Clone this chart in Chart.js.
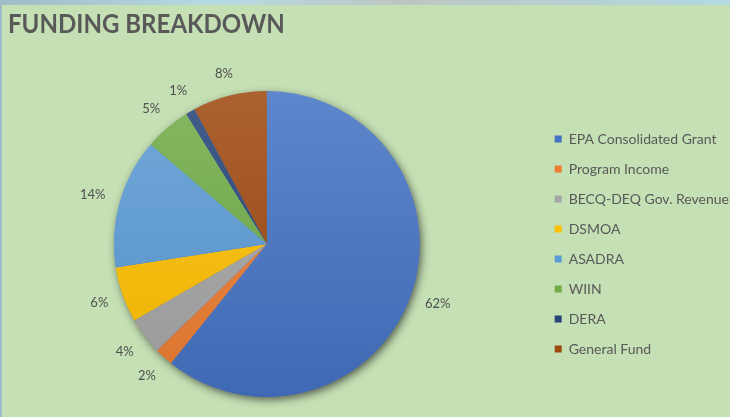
<!DOCTYPE html>
<html>
<head>
<meta charset="utf-8">
<script src="https://cdn.jsdelivr.net/npm/chart.js@4/dist/chart.umd.min.js"></script>
<style>
  html,body{margin:0;padding:0;}
  body{width:730px;height:417px;overflow:hidden;position:relative;
       background:linear-gradient(90deg,#9fbcc8 0%,#b7dbe4 30%,#bcc6c2 55%,#b2d9e2 100%);}
  #panel{position:absolute;left:2px;top:5px;width:728px;height:412px;background:#c5e0b4;overflow:hidden;}
  #title{position:absolute;left:6px;top:5px;font-family:Lato,"Open Sans",sans-serif;font-weight:700;
         font-size:26px;line-height:26px;color:#595959;white-space:nowrap;
         transform:scaleX(0.925);transform-origin:0 0;}
  canvas{position:absolute;left:-7px;top:0;}
</style>
</head>
<body>
<div id="panel">
  <canvas id="c" width="735" height="412"></canvas>
  <div id="title">FUNDING BREAKDOWN</div>
</div>
<script>
const categories = ["EPA Consolidated Grant","Program Income","BECQ-DEQ Gov. Revenue","DSMOA","ASADRA","WIIN","DERA","General Fund"];
const shares = [62, 2, 4, 6, 14, 5, 1, 8];
const colors = ["#4472C4","#ED7D31","#A5A5A5","#FFC000","#5B9BD5","#70AD47","#264478","#9E480E"];

function shade(hex, amt){
  const n = parseInt(hex.slice(1),16);
  let r=(n>>16)&255,g=(n>>8)&255,b=n&255;
  const f = v => amt>=0 ? Math.round(v+(255-v)*amt) : Math.round(v*(1+amt));
  return `rgb(${f(r)},${f(g)},${f(b)})`;
}

const R = 153;

const shadowPlugin = {
  id:'pieShadow',
  beforeDatasetsDraw(chart){
    const arc = chart.getDatasetMeta(0).data[0];
    if(!arc) return;
    const p = arc.getProps(['x','y','outerRadius'],true);
    const ctx = chart.ctx;
    ctx.save();
    ctx.shadowColor='rgba(30,30,30,0.7)';
    ctx.shadowBlur=9;
    ctx.shadowOffsetX=2;
    ctx.shadowOffsetY=3;
    ctx.fillStyle='#4472C4';
    ctx.beginPath();
    ctx.arc(p.x,p.y,p.outerRadius-0.5,0,Math.PI*2);
    ctx.fill();
    ctx.restore();
  }
};

const labelPlugin = {
  id:'outLabels',
  afterDatasetsDraw(chart){
    const meta = chart.getDatasetMeta(0);
    const ctx = chart.ctx;
    ctx.save();
    ctx.font = '13px Lato, "Open Sans", sans-serif';
    ctx.fillStyle = '#505050';
    ctx.textAlign='center';
    ctx.textBaseline='middle';
    meta.data.forEach((arc,i)=>{
      const p = arc.getProps(['x','y','startAngle','endAngle','outerRadius'],true);
      const mid = (p.startAngle+p.endAngle)/2;
      const txt = shares[i] + '%';
      const hw = ctx.measureText(txt).width/2, hh = 6.5;
      const c = Math.cos(mid), s = Math.sin(mid);
      const r = p.outerRadius + 14 + Math.abs(c)*hw + Math.abs(s)*hh;
      ctx.fillText(txt, p.x + c*r, p.y + s*r);
    });
    ctx.restore();
  }
};

new Chart(document.getElementById('c'), {
  type:'pie',
  data:{
    labels: categories,
    datasets:[{
      data: shares,
      backgroundColor: (c) => {
        const chart = c.chart, a = chart.chartArea;
        const base = colors[c.dataIndex % colors.length];
        if(!a) return base;
        const cy = (a.top+a.bottom)/2;
        const g = chart.ctx.createLinearGradient(0, cy-R, 0, cy+R);
        g.addColorStop(0, shade(base, 0.14));
        g.addColorStop(1, shade(base, -0.08));
        return g;
      },
      borderWidth:0,
      hoverOffset:0,
      offset:0,
      radius:R,
      clip:false
    }]
  },
  options:{
    responsive:false,
    animation:false,
    events:[],
    layout:{padding:{left:-20,right:-9,top:66,bottom:0}},
    plugins:{
      title:{display:false},
      tooltip:{enabled:false},
      legend:{
        position:'right',
        align:'center',
        labels:{
          boxWidth:7, boxHeight:7, padding:16,
          color:'#595959',
          font:{family:'Lato, "Open Sans", sans-serif', size:14},
          generateLabels: (chart) => categories.map((t,i)=>({
            text:t, fillStyle:colors[i], strokeStyle:colors[i], lineWidth:0,
            hidden:false, index:i, fontColor:'#595959'
          }))
        }
      }
    }
  },
  plugins:[shadowPlugin,labelPlugin]
});
</script>
</body>
</html>
